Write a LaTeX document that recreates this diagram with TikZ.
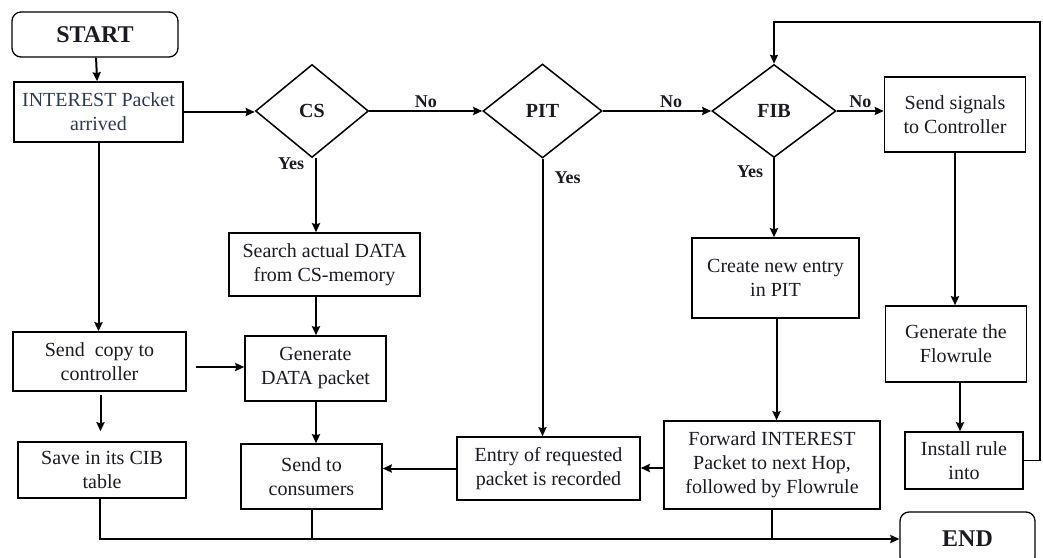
\documentclass[tikz,border=0pt]{standalone}
\usepackage{fontspec}
\setmainfont{Liberation Serif}
\usetikzlibrary{shapes.geometric,arrows.meta}
\definecolor{ink}{HTML}{1A1A22}
\definecolor{inkblue}{HTML}{2B3A55}
\begin{document}
\begin{tikzpicture}[x=1pt,y=-1pt,
  every node/.style={text=ink},
  box/.style={draw=black, line width=1.5pt, rectangle, inner sep=2pt, align=center,
    font=\fontsize{20}{24}\selectfont},
  term/.style={draw=black, line width=1.3pt, rounded corners=9pt, align=center,
    font=\fontsize{24}{28}\selectfont\bfseries},
  decide/.style={draw=black, line width=1.5pt, diamond, inner sep=0pt,
    font=\fontsize{20}{24}\selectfont\bfseries},
  flow/.style={line width=2pt, -{Stealth[length=9pt,width=8pt,inset=1pt]}},
  plain/.style={line width=2pt},
  lbl/.style={font=\fontsize{18}{22}\selectfont\bfseries, inner sep=2pt}]
\useasboundingbox (0,0) rectangle (1043,557);

% terminals
\node[term, minimum width=166pt, minimum height=45pt] (start) at (95,34.5) {START};
\node[term, minimum width=135pt, minimum height=54pt] (end) at (967.5,539) {END};

% decisions
\node[decide, minimum width=113pt, minimum height=93pt] (cs) at (312,111) {CS};
\node[decide, minimum width=119pt, minimum height=94pt] (pit) at (542.5,111) {PIT};
\node[decide, minimum width=124pt, minimum height=93pt] (fib) at (774,111) {FIB};

% process boxes
\node[box, minimum width=169pt, minimum height=60pt, text=inkblue] (interest) at (98.5,112) {INTEREST Packet\\arrived};
\node[box, minimum width=173pt, minimum height=59pt] (copy) at (99.5,361.5) {Send\ \ copy to\\controller};
\node[box, minimum width=168pt, minimum height=56pt] (save) at (102,470) {Save in its CIB\\table};
\node[box, minimum width=191pt, minimum height=63pt] (search) at (324.5,264.5) {Search actual DATA\\from CS-memory};
\node[box, minimum width=141pt, minimum height=65pt] (gendata) at (315.5,368.5) {Generate\\DATA packet};
\node[box, minimum width=141pt, minimum height=65pt] (consumers) at (311.5,476.5) {Send to\\consumers};
\node[box, minimum width=183pt, minimum height=63pt] (entry) at (548.5,468.5) {Entry of requested\\packet is recorded};
\node[box, minimum width=167pt, minimum height=80pt] (create) at (775.5,278) {Create new entry\\in PIT};
\node[box, minimum width=216pt, minimum height=88pt] (forward) at (772,465) {Forward INTEREST\\Packet to next Hop,\\followed by Flowrule};
\node[box, minimum width=141pt, minimum height=75pt] (signals) at (955,114.5) {Send signals\\to Controller};
\node[box, minimum width=141pt, minimum height=76pt] (flowrule) at (956,344) {Generate the\\Flowrule};
\node[box, minimum width=118pt, minimum height=57pt] (install) at (964,460.5) {Install rule\\into};

% main path
\draw[flow] (start) -- (interest);
\draw[flow] (interest.east) -- (interest.east -| cs.west);
\draw[flow] (cs.east) -- node[lbl, above, pos=0.5] {No} (pit.west);
\draw[flow] (pit.east) -- node[lbl, above, pos=0.63] {No} (fib.west);
\draw[flow] (fib.east) -- node[lbl, above, pos=0.5] {No} (fib.east -| signals.west);

% CS hit branch
\draw[flow] ([xshift=4pt]cs.south) -- ([xshift=4pt]cs.south |- search.north)
  node[lbl, pos=0.08, left=9pt] {Yes};
\draw[flow] ([xshift=4pt]cs.south |- search.south) -- ([xshift=4pt]cs.south |- gendata.north);
\draw[flow] ([xshift=4pt]cs.south |- gendata.south) -- ([xshift=4pt]cs.south |- consumers.north);

% copy to controller branch
\draw[flow] (interest.south) -- (interest.south |- copy.north);
\draw[flow] ([xshift=9pt,yshift=-5.5pt]copy.east) -- ([yshift=-5.5pt]copy.east -| gendata.west);
\draw[flow] ([xshift=1pt,yshift=-3pt]copy.south) -- ([xshift=1pt,yshift=10pt]copy.south |- save.north);

% PIT hit branch
\draw[flow] (pit.south) -- (pit.south |- entry.north)
  node[lbl, pos=0.07, right=9pt] {Yes};
\draw[flow] (entry.west) -- (entry.west -| consumers.east);

% FIB hit branch
\draw[flow] (fib.south) -- (fib.south |- create.north)
  node[lbl, pos=0.17, left=8pt] {Yes};
\draw[flow] ([xshift=1pt]create.south) -- ([xshift=1pt]create.south |- forward.north);
\draw[flow] ([yshift=-3pt]forward.west) -- ([yshift=-3pt]forward.west -| entry.east);

% controller branch
\draw[flow] (signals.south) -- (signals.south |- flowrule.north);
\draw[flow] ([xshift=4pt]flowrule.south) -- ([xshift=4pt]flowrule.south |- install.north);
\coordinate (loop) at (1040,22);
\draw[flow, line width=1.6pt] (install.east) -| (loop) -| (fib.north);

% collection line to END
\draw[flow] ([xshift=-2pt]save.south) |- (end.west);
\draw[plain] (consumers.south) -- (consumers.south |- end.west);
\draw[plain] (forward.south) -- (forward.south |- end.west);
\end{tikzpicture}
\end{document}
